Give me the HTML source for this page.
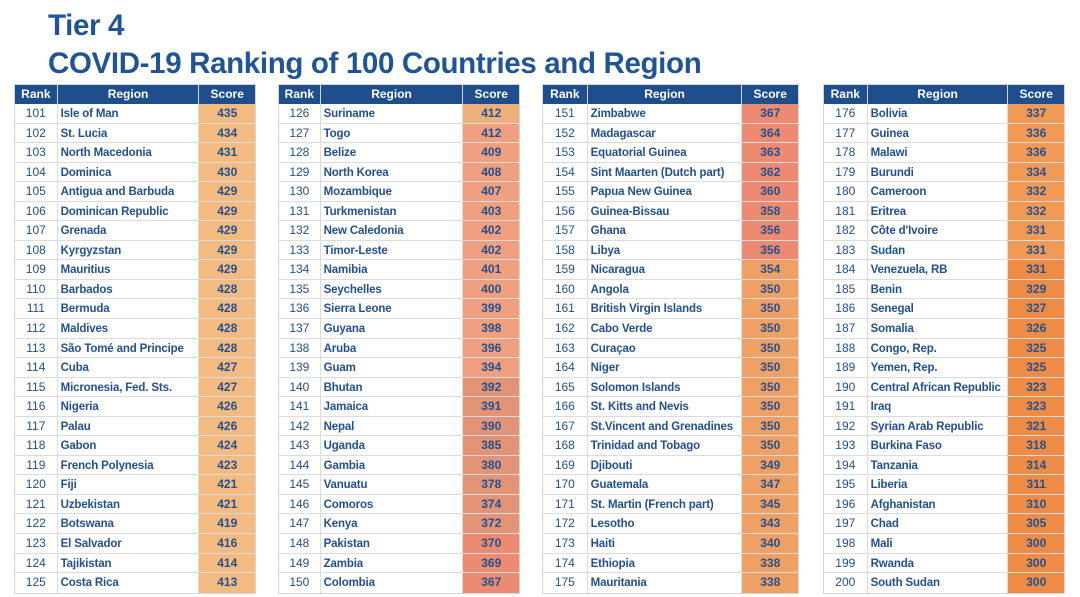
<!DOCTYPE html>
<html><head><meta charset="utf-8">
<style>
*{margin:0;padding:0;box-sizing:border-box}
body{width:1080px;height:597px;background:#fff;font-family:"Liberation Sans",Arial,sans-serif;position:relative;overflow:hidden;color:#23508f}
.t{position:absolute;left:48px;font-weight:bold;font-size:29.5px;color:#1f5596;letter-spacing:-0.35px}
.tb{position:absolute;top:84px;border:1px solid #d6d6d6;background:#fff}
.r{display:flex;height:19.55px;border-bottom:1px solid #dcdcdc;font-size:12px;line-height:18.5px}
.r:last-child{border-bottom:none}
.h{background:#1e4f8c;color:#fff;font-weight:bold;height:19px;border-bottom:none}
.r>div{border-right:1px solid #dcdcdc;white-space:nowrap;overflow:hidden}
.r>div:last-child{border-right:none}
.h>div{border-right:1px solid #d6d6d6}
.k{text-align:center}
.n{padding-left:3px;padding-top:1px;font-weight:bold;font-size:11.5px;letter-spacing:-0.15px}
.h .n{text-align:center;padding-left:0;padding-top:0;font-size:12px;letter-spacing:0}
.s{text-align:center;font-weight:bold}
.a{background:#f3bb82}.b{background:#eeb07a}.c{background:#f0a07e}.d{background:#e39476}.e{background:#ec8a72}.f{background:#efa064}.g{background:#f09a55}.i{background:#ee8c45}
.h .s{background:#1e4f8c}
</style></head><body>
<div class="t" style="top:9px">Tier 4</div>
<div class="t" style="top:47px">COVID-19 Ranking of 100 Countries and Region</div>

<div class="tb" style="left:14px;width:242px">
<div class="r h"><div class="k" style="width:43px">Rank</div><div class="n" style="width:143px">Region</div><div class="s" style="width:56px">Score</div></div>
<div class="r"><div class="k" style="width:43px">101</div><div class="n" style="width:143px">Isle of Man</div><div class="s a" style="width:56px">435</div></div>
<div class="r"><div class="k" style="width:43px">102</div><div class="n" style="width:143px">St. Lucia</div><div class="s a" style="width:56px">434</div></div>
<div class="r"><div class="k" style="width:43px">103</div><div class="n" style="width:143px">North Macedonia</div><div class="s a" style="width:56px">431</div></div>
<div class="r"><div class="k" style="width:43px">104</div><div class="n" style="width:143px">Dominica</div><div class="s a" style="width:56px">430</div></div>
<div class="r"><div class="k" style="width:43px">105</div><div class="n" style="width:143px">Antigua and Barbuda</div><div class="s a" style="width:56px">429</div></div>
<div class="r"><div class="k" style="width:43px">106</div><div class="n" style="width:143px">Dominican Republic</div><div class="s a" style="width:56px">429</div></div>
<div class="r"><div class="k" style="width:43px">107</div><div class="n" style="width:143px">Grenada</div><div class="s a" style="width:56px">429</div></div>
<div class="r"><div class="k" style="width:43px">108</div><div class="n" style="width:143px">Kyrgyzstan</div><div class="s a" style="width:56px">429</div></div>
<div class="r"><div class="k" style="width:43px">109</div><div class="n" style="width:143px">Mauritius</div><div class="s a" style="width:56px">429</div></div>
<div class="r"><div class="k" style="width:43px">110</div><div class="n" style="width:143px">Barbados</div><div class="s a" style="width:56px">428</div></div>
<div class="r"><div class="k" style="width:43px">111</div><div class="n" style="width:143px">Bermuda</div><div class="s a" style="width:56px">428</div></div>
<div class="r"><div class="k" style="width:43px">112</div><div class="n" style="width:143px">Maldives</div><div class="s a" style="width:56px">428</div></div>
<div class="r"><div class="k" style="width:43px">113</div><div class="n" style="width:143px">São Tomé and Principe</div><div class="s a" style="width:56px">428</div></div>
<div class="r"><div class="k" style="width:43px">114</div><div class="n" style="width:143px">Cuba</div><div class="s a" style="width:56px">427</div></div>
<div class="r"><div class="k" style="width:43px">115</div><div class="n" style="width:143px">Micronesia, Fed. Sts.</div><div class="s a" style="width:56px">427</div></div>
<div class="r"><div class="k" style="width:43px">116</div><div class="n" style="width:143px">Nigeria</div><div class="s a" style="width:56px">426</div></div>
<div class="r"><div class="k" style="width:43px">117</div><div class="n" style="width:143px">Palau</div><div class="s a" style="width:56px">426</div></div>
<div class="r"><div class="k" style="width:43px">118</div><div class="n" style="width:143px">Gabon</div><div class="s a" style="width:56px">424</div></div>
<div class="r"><div class="k" style="width:43px">119</div><div class="n" style="width:143px">French Polynesia</div><div class="s a" style="width:56px">423</div></div>
<div class="r"><div class="k" style="width:43px">120</div><div class="n" style="width:143px">Fiji</div><div class="s a" style="width:56px">421</div></div>
<div class="r"><div class="k" style="width:43px">121</div><div class="n" style="width:143px">Uzbekistan</div><div class="s a" style="width:56px">421</div></div>
<div class="r"><div class="k" style="width:43px">122</div><div class="n" style="width:143px">Botswana</div><div class="s a" style="width:56px">419</div></div>
<div class="r"><div class="k" style="width:43px">123</div><div class="n" style="width:143px">El Salvador</div><div class="s a" style="width:56px">416</div></div>
<div class="r"><div class="k" style="width:43px">124</div><div class="n" style="width:143px">Tajikistan</div><div class="s a" style="width:56px">414</div></div>
<div class="r"><div class="k" style="width:43px">125</div><div class="n" style="width:143px">Costa Rica</div><div class="s a" style="width:56px">413</div></div>
</div>

<div class="tb" style="left:278px;width:242px">
<div class="r h"><div class="k" style="width:42px">Rank</div><div class="n" style="width:144px">Region</div><div class="s" style="width:56px">Score</div></div>
<div class="r"><div class="k" style="width:42px">126</div><div class="n" style="width:144px">Suriname</div><div class="s b" style="width:56px">412</div></div>
<div class="r"><div class="k" style="width:42px">127</div><div class="n" style="width:144px">Togo</div><div class="s c" style="width:56px">412</div></div>
<div class="r"><div class="k" style="width:42px">128</div><div class="n" style="width:144px">Belize</div><div class="s c" style="width:56px">409</div></div>
<div class="r"><div class="k" style="width:42px">129</div><div class="n" style="width:144px">North Korea</div><div class="s c" style="width:56px">408</div></div>
<div class="r"><div class="k" style="width:42px">130</div><div class="n" style="width:144px">Mozambique</div><div class="s c" style="width:56px">407</div></div>
<div class="r"><div class="k" style="width:42px">131</div><div class="n" style="width:144px">Turkmenistan</div><div class="s c" style="width:56px">403</div></div>
<div class="r"><div class="k" style="width:42px">132</div><div class="n" style="width:144px">New Caledonia</div><div class="s c" style="width:56px">402</div></div>
<div class="r"><div class="k" style="width:42px">133</div><div class="n" style="width:144px">Timor-Leste</div><div class="s c" style="width:56px">402</div></div>
<div class="r"><div class="k" style="width:42px">134</div><div class="n" style="width:144px">Namibia</div><div class="s c" style="width:56px">401</div></div>
<div class="r"><div class="k" style="width:42px">135</div><div class="n" style="width:144px">Seychelles</div><div class="s c" style="width:56px">400</div></div>
<div class="r"><div class="k" style="width:42px">136</div><div class="n" style="width:144px">Sierra Leone</div><div class="s c" style="width:56px">399</div></div>
<div class="r"><div class="k" style="width:42px">137</div><div class="n" style="width:144px">Guyana</div><div class="s c" style="width:56px">398</div></div>
<div class="r"><div class="k" style="width:42px">138</div><div class="n" style="width:144px">Aruba</div><div class="s c" style="width:56px">396</div></div>
<div class="r"><div class="k" style="width:42px">139</div><div class="n" style="width:144px">Guam</div><div class="s c" style="width:56px">394</div></div>
<div class="r"><div class="k" style="width:42px">140</div><div class="n" style="width:144px">Bhutan</div><div class="s d" style="width:56px">392</div></div>
<div class="r"><div class="k" style="width:42px">141</div><div class="n" style="width:144px">Jamaica</div><div class="s d" style="width:56px">391</div></div>
<div class="r"><div class="k" style="width:42px">142</div><div class="n" style="width:144px">Nepal</div><div class="s d" style="width:56px">390</div></div>
<div class="r"><div class="k" style="width:42px">143</div><div class="n" style="width:144px">Uganda</div><div class="s d" style="width:56px">385</div></div>
<div class="r"><div class="k" style="width:42px">144</div><div class="n" style="width:144px">Gambia</div><div class="s d" style="width:56px">380</div></div>
<div class="r"><div class="k" style="width:42px">145</div><div class="n" style="width:144px">Vanuatu</div><div class="s d" style="width:56px">378</div></div>
<div class="r"><div class="k" style="width:42px">146</div><div class="n" style="width:144px">Comoros</div><div class="s d" style="width:56px">374</div></div>
<div class="r"><div class="k" style="width:42px">147</div><div class="n" style="width:144px">Kenya</div><div class="s d" style="width:56px">372</div></div>
<div class="r"><div class="k" style="width:42px">148</div><div class="n" style="width:144px">Pakistan</div><div class="s e" style="width:56px">370</div></div>
<div class="r"><div class="k" style="width:42px">149</div><div class="n" style="width:144px">Zambia</div><div class="s e" style="width:56px">369</div></div>
<div class="r"><div class="k" style="width:42px">150</div><div class="n" style="width:144px">Colombia</div><div class="s e" style="width:56px">367</div></div>
</div>

<div class="tb" style="left:542px;width:257px">
<div class="r h"><div class="k" style="width:45px">Rank</div><div class="n" style="width:156px">Region</div><div class="s" style="width:56px">Score</div></div>
<div class="r"><div class="k" style="width:45px">151</div><div class="n" style="width:156px">Zimbabwe</div><div class="s e" style="width:56px">367</div></div>
<div class="r"><div class="k" style="width:45px">152</div><div class="n" style="width:156px">Madagascar</div><div class="s e" style="width:56px">364</div></div>
<div class="r"><div class="k" style="width:45px">153</div><div class="n" style="width:156px">Equatorial Guinea</div><div class="s e" style="width:56px">363</div></div>
<div class="r"><div class="k" style="width:45px">154</div><div class="n" style="width:156px">Sint Maarten (Dutch part)</div><div class="s e" style="width:56px">362</div></div>
<div class="r"><div class="k" style="width:45px">155</div><div class="n" style="width:156px">Papua New Guinea</div><div class="s e" style="width:56px">360</div></div>
<div class="r"><div class="k" style="width:45px">156</div><div class="n" style="width:156px">Guinea-Bissau</div><div class="s e" style="width:56px">358</div></div>
<div class="r"><div class="k" style="width:45px">157</div><div class="n" style="width:156px">Ghana</div><div class="s e" style="width:56px">356</div></div>
<div class="r"><div class="k" style="width:45px">158</div><div class="n" style="width:156px">Libya</div><div class="s e" style="width:56px">356</div></div>
<div class="r"><div class="k" style="width:45px">159</div><div class="n" style="width:156px">Nicaragua</div><div class="s f" style="width:56px">354</div></div>
<div class="r"><div class="k" style="width:45px">160</div><div class="n" style="width:156px">Angola</div><div class="s f" style="width:56px">350</div></div>
<div class="r"><div class="k" style="width:45px">161</div><div class="n" style="width:156px">British Virgin Islands</div><div class="s f" style="width:56px">350</div></div>
<div class="r"><div class="k" style="width:45px">162</div><div class="n" style="width:156px">Cabo Verde</div><div class="s f" style="width:56px">350</div></div>
<div class="r"><div class="k" style="width:45px">163</div><div class="n" style="width:156px">Curaçao</div><div class="s f" style="width:56px">350</div></div>
<div class="r"><div class="k" style="width:45px">164</div><div class="n" style="width:156px">Niger</div><div class="s f" style="width:56px">350</div></div>
<div class="r"><div class="k" style="width:45px">165</div><div class="n" style="width:156px">Solomon Islands</div><div class="s f" style="width:56px">350</div></div>
<div class="r"><div class="k" style="width:45px">166</div><div class="n" style="width:156px">St. Kitts and Nevis</div><div class="s f" style="width:56px">350</div></div>
<div class="r"><div class="k" style="width:45px">167</div><div class="n" style="width:156px">St.Vincent and Grenadines</div><div class="s f" style="width:56px">350</div></div>
<div class="r"><div class="k" style="width:45px">168</div><div class="n" style="width:156px">Trinidad and Tobago</div><div class="s f" style="width:56px">350</div></div>
<div class="r"><div class="k" style="width:45px">169</div><div class="n" style="width:156px">Djibouti</div><div class="s f" style="width:56px">349</div></div>
<div class="r"><div class="k" style="width:45px">170</div><div class="n" style="width:156px">Guatemala</div><div class="s f" style="width:56px">347</div></div>
<div class="r"><div class="k" style="width:45px">171</div><div class="n" style="width:156px">St. Martin (French part)</div><div class="s f" style="width:56px">345</div></div>
<div class="r"><div class="k" style="width:45px">172</div><div class="n" style="width:156px">Lesotho</div><div class="s f" style="width:56px">343</div></div>
<div class="r"><div class="k" style="width:45px">173</div><div class="n" style="width:156px">Haiti</div><div class="s f" style="width:56px">340</div></div>
<div class="r"><div class="k" style="width:45px">174</div><div class="n" style="width:156px">Ethiopia</div><div class="s f" style="width:56px">338</div></div>
<div class="r"><div class="k" style="width:45px">175</div><div class="n" style="width:156px">Mauritania</div><div class="s f" style="width:56px">338</div></div>
</div>

<div class="tb" style="left:823px;width:242px">
<div class="r h"><div class="k" style="width:44px">Rank</div><div class="n" style="width:142px">Region</div><div class="s" style="width:56px">Score</div></div>
<div class="r"><div class="k" style="width:44px">176</div><div class="n" style="width:142px">Bolivia</div><div class="s g" style="width:56px">337</div></div>
<div class="r"><div class="k" style="width:44px">177</div><div class="n" style="width:142px">Guinea</div><div class="s g" style="width:56px">336</div></div>
<div class="r"><div class="k" style="width:44px">178</div><div class="n" style="width:142px">Malawi</div><div class="s g" style="width:56px">336</div></div>
<div class="r"><div class="k" style="width:44px">179</div><div class="n" style="width:142px">Burundi</div><div class="s g" style="width:56px">334</div></div>
<div class="r"><div class="k" style="width:44px">180</div><div class="n" style="width:142px">Cameroon</div><div class="s g" style="width:56px">332</div></div>
<div class="r"><div class="k" style="width:44px">181</div><div class="n" style="width:142px">Eritrea</div><div class="s g" style="width:56px">332</div></div>
<div class="r"><div class="k" style="width:44px">182</div><div class="n" style="width:142px">Côte d'Ivoire</div><div class="s g" style="width:56px">331</div></div>
<div class="r"><div class="k" style="width:44px">183</div><div class="n" style="width:142px">Sudan</div><div class="s g" style="width:56px">331</div></div>
<div class="r"><div class="k" style="width:44px">184</div><div class="n" style="width:142px">Venezuela, RB</div><div class="s i" style="width:56px">331</div></div>
<div class="r"><div class="k" style="width:44px">185</div><div class="n" style="width:142px">Benin</div><div class="s i" style="width:56px">329</div></div>
<div class="r"><div class="k" style="width:44px">186</div><div class="n" style="width:142px">Senegal</div><div class="s i" style="width:56px">327</div></div>
<div class="r"><div class="k" style="width:44px">187</div><div class="n" style="width:142px">Somalia</div><div class="s i" style="width:56px">326</div></div>
<div class="r"><div class="k" style="width:44px">188</div><div class="n" style="width:142px">Congo, Rep.</div><div class="s i" style="width:56px">325</div></div>
<div class="r"><div class="k" style="width:44px">189</div><div class="n" style="width:142px">Yemen, Rep.</div><div class="s i" style="width:56px">325</div></div>
<div class="r"><div class="k" style="width:44px">190</div><div class="n" style="width:142px">Central African Republic</div><div class="s i" style="width:56px">323</div></div>
<div class="r"><div class="k" style="width:44px">191</div><div class="n" style="width:142px">Iraq</div><div class="s i" style="width:56px">323</div></div>
<div class="r"><div class="k" style="width:44px">192</div><div class="n" style="width:142px">Syrian Arab Republic</div><div class="s i" style="width:56px">321</div></div>
<div class="r"><div class="k" style="width:44px">193</div><div class="n" style="width:142px">Burkina Faso</div><div class="s i" style="width:56px">318</div></div>
<div class="r"><div class="k" style="width:44px">194</div><div class="n" style="width:142px">Tanzania</div><div class="s i" style="width:56px">314</div></div>
<div class="r"><div class="k" style="width:44px">195</div><div class="n" style="width:142px">Liberia</div><div class="s i" style="width:56px">311</div></div>
<div class="r"><div class="k" style="width:44px">196</div><div class="n" style="width:142px">Afghanistan</div><div class="s i" style="width:56px">310</div></div>
<div class="r"><div class="k" style="width:44px">197</div><div class="n" style="width:142px">Chad</div><div class="s i" style="width:56px">305</div></div>
<div class="r"><div class="k" style="width:44px">198</div><div class="n" style="width:142px">Mali</div><div class="s i" style="width:56px">300</div></div>
<div class="r"><div class="k" style="width:44px">199</div><div class="n" style="width:142px">Rwanda</div><div class="s i" style="width:56px">300</div></div>
<div class="r"><div class="k" style="width:44px">200</div><div class="n" style="width:142px">South Sudan</div><div class="s i" style="width:56px">300</div></div>
</div>
</body></html>
